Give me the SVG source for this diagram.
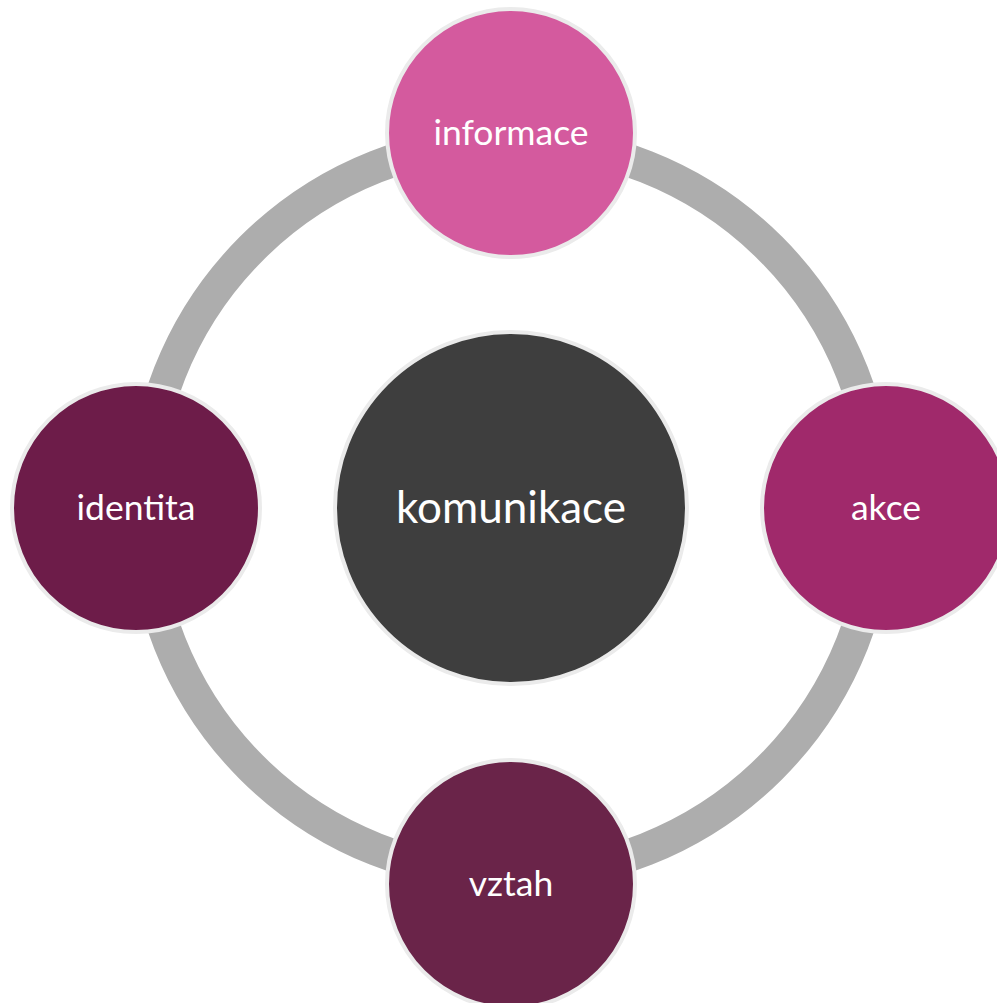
<svg xmlns="http://www.w3.org/2000/svg" width="997" height="1003" viewBox="0 0 997 1003">
<style>
.node circle{stroke:#ebebeb;stroke-width:4}
.node text{font-family:Lato,"Open Sans","Liberation Sans",sans-serif;fill:#ffffff;text-anchor:middle}
.sm{font-size:35.5px}
.lg{font-size:44px}
</style>
<rect width="997" height="1003" fill="#ffffff"/>
<g id="connectors">
<circle cx="511" cy="508" r="367" fill="none" stroke="#adadad" stroke-width="33"/>
</g>
<g id="node-komunikace" class="node">
<circle cx="511" cy="508" r="176" fill="#3e3e3e"/>
<text class="lg" x="511" y="523">komunikace</text>
</g>
<g id="node-informace" class="node">
<circle cx="511" cy="133" r="124" fill="#d45a9e"/>
<text class="sm" x="511" y="145">informace</text>
</g>
<g id="node-akce" class="node">
<circle cx="886" cy="508" r="124" fill="#a0296b"/>
<text class="sm" x="886" y="520">akce</text>
</g>
<g id="node-vztah" class="node">
<circle cx="511" cy="884" r="124" fill="#6a2449"/>
<text class="sm" x="511" y="896">vztah</text>
</g>
<g id="node-identita" class="node">
<circle cx="136" cy="508" r="124" fill="#6d1c49"/>
<text class="sm" x="136" y="520">identita</text>
</g>
</svg>
